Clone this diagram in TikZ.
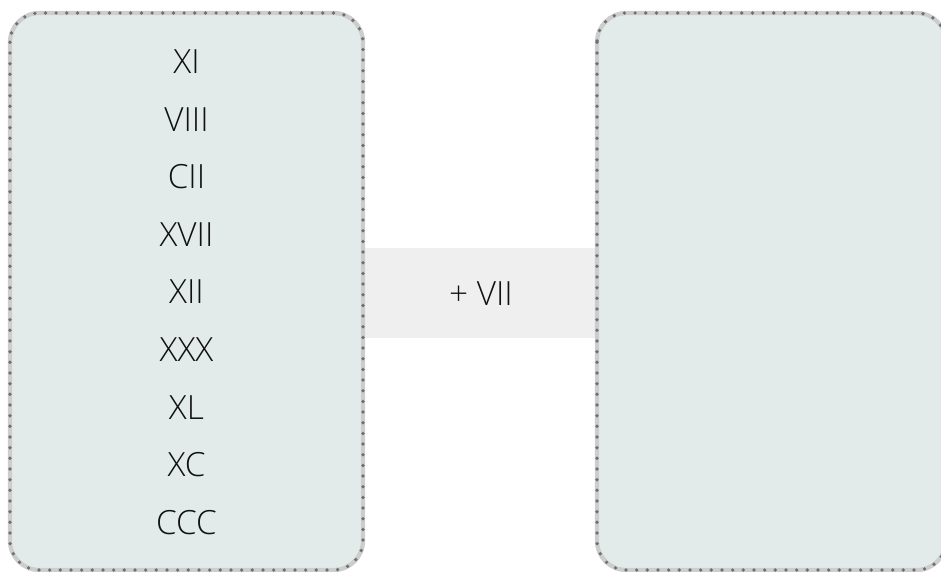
\documentclass[tikz,border=0pt]{standalone}
\usepackage{fontspec}
\setmainfont{Open Sans Light}
\definecolor{boxfill}{HTML}{E3EBEA}
\definecolor{bandfill}{HTML}{EFEFEF}
\definecolor{halo}{HTML}{CDCDCD}
\definecolor{dotc}{HTML}{707070}
\definecolor{txt}{HTML}{111111}
\tikzset{
  panel/.style={fill=boxfill, draw=halo, line width=3.2pt, rounded corners=22pt},
  dotborder/.style={draw=dotc, line width=2.8pt, line cap=round, dash pattern=on 0pt off 8pt, rounded corners=22pt},
  lbl/.style={font=\fontsize{25}{28}\selectfont, text=txt, inner sep=0pt, anchor=center},
}
\begin{document}
\begin{tikzpicture}[x=0.75pt,y=-0.75pt]
\useasboundingbox (0,0) rectangle (941,571);
\clip (0,0) rectangle (941,571);
% middle band
\node[fill=bandfill, minimum width=232*0.75pt, minimum height=90*0.75pt, inner sep=0pt] (band) at (481,293) {};
% panels
\draw[panel] (10,13) rectangle (363,570);
\draw[dotborder] (10,13) rectangle (363,570);
\draw[panel] (597,13) rectangle (946,570);
\draw[dotborder] (597,13) rectangle (946,570);
\node[inner sep=0pt] (leftbox) at (186.5,291.5) {};
\node[inner sep=0pt] (rightbox) at (771,291.5) {};
% labels
\node[lbl] (n1) at (186.5,61.5) {XI};
\node[lbl] (n2) at (186.5,119.1) {VIII};
\node[lbl] (n3) at (186.5,176.7) {CII};
\node[lbl] (n4) at (186.5,234.3) {XVII};
\node[lbl] (n5) at (186.5,291.9) {XII};
\node[lbl] (n6) at (186.5,349.5) {XXX};
\node[lbl] (n7) at (186.5,407.1) {XL};
\node[lbl] (n8) at (186.5,464.7) {XC};
\node[lbl] (n9) at (186.5,522.3) {CCC};
\node[lbl] (plus) at (481,294) {+ VII};
\end{tikzpicture}
\end{document}
